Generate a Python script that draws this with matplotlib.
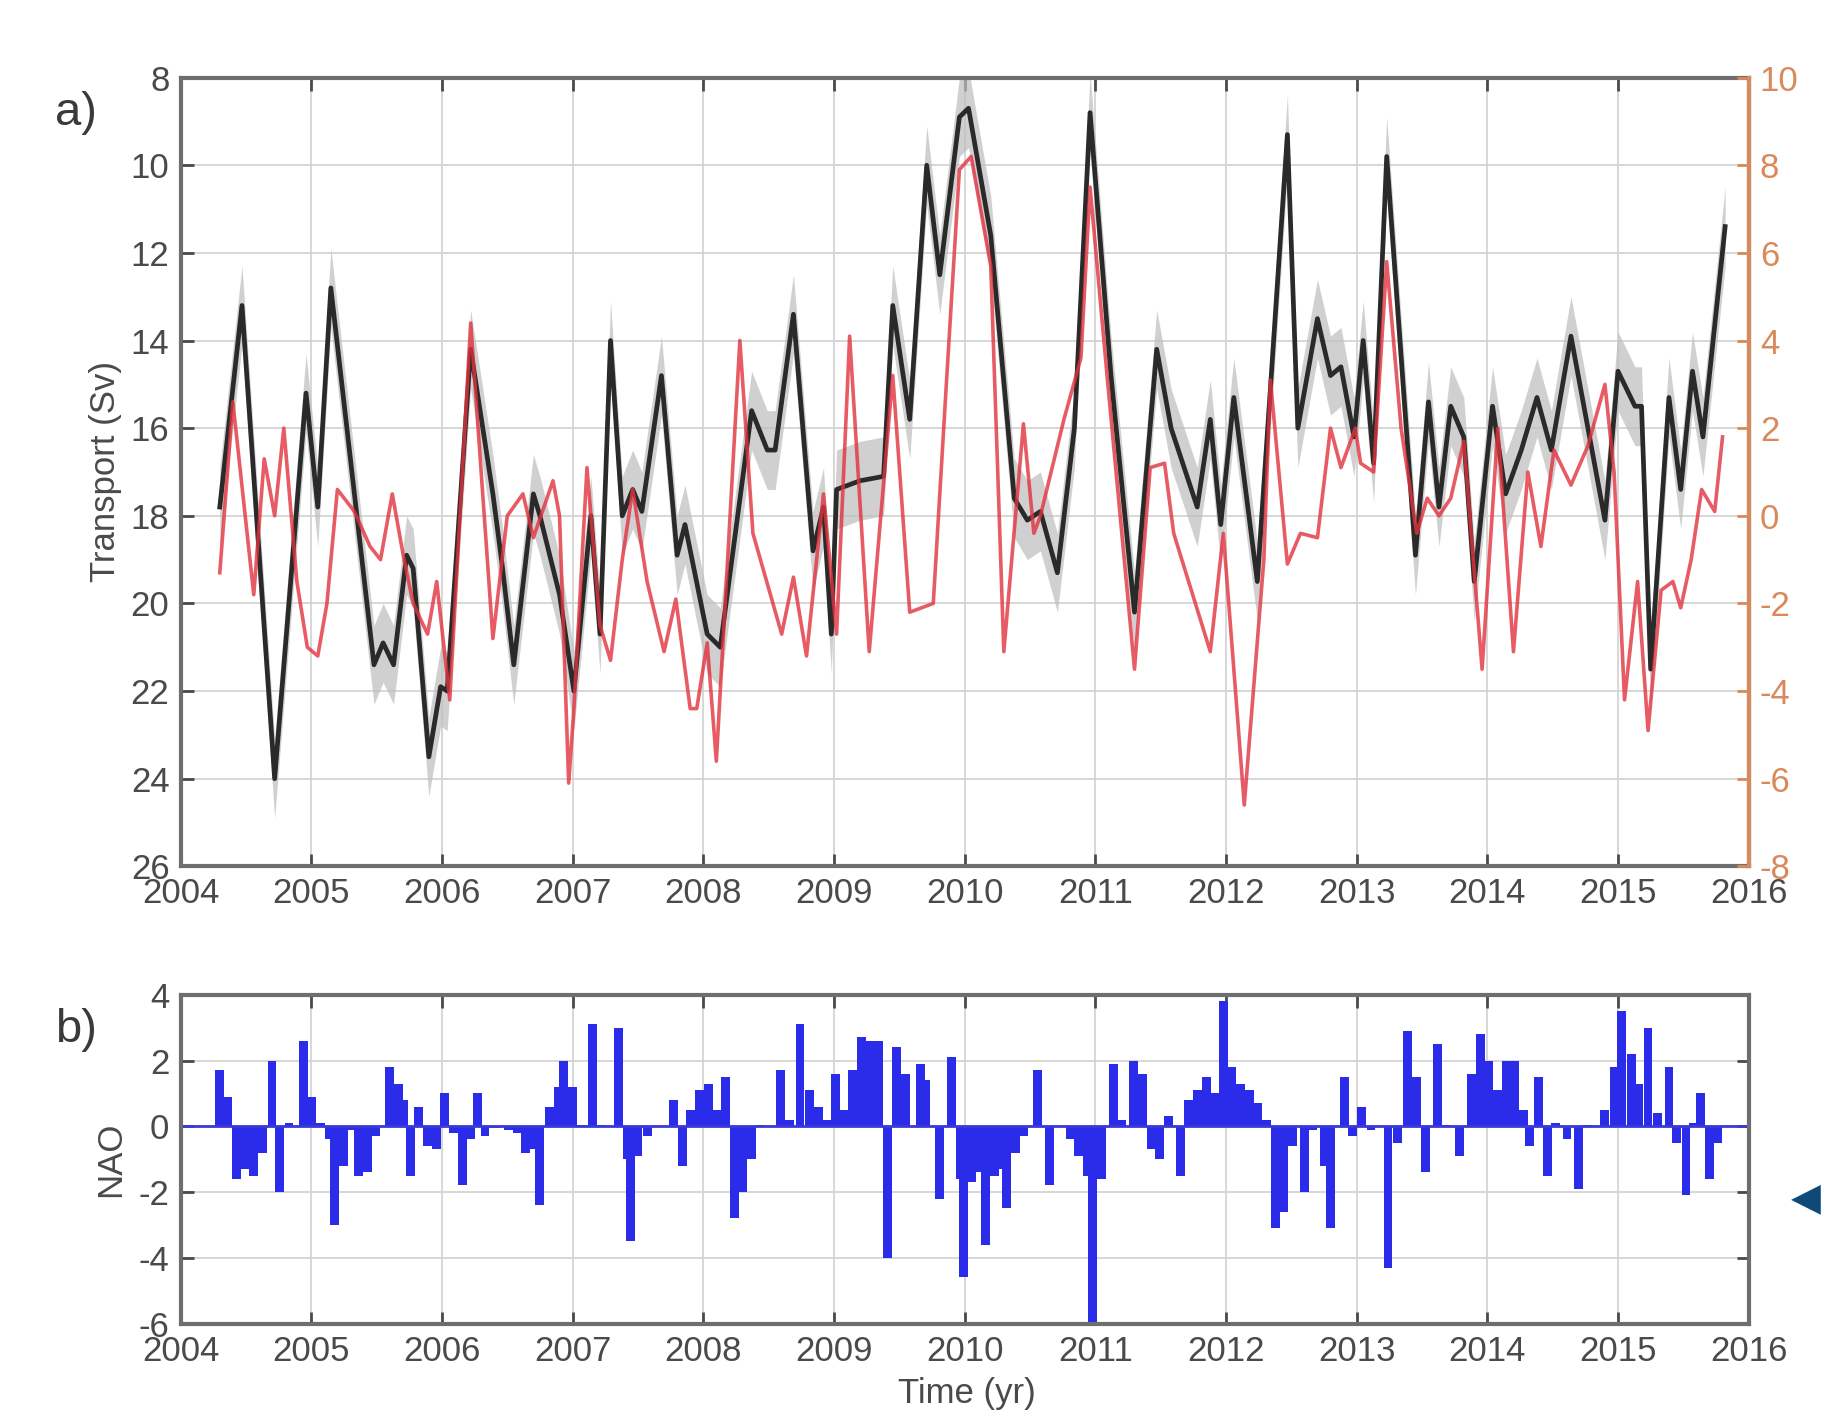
import matplotlib.pyplot as plt

plt.rcParams['font.family'] = ['Liberation Sans Narrow', 'Liberation Sans', 'DejaVu Sans']
plt.rcParams['axes.unicode_minus'] = False

# a) observed transport (Sv), black line with grey error band
transport_year = [2004.30, 2004.47, 2004.72, 2004.96, 2005.05, 2005.15, 2005.48, 2005.55,
                  2005.63, 2005.73, 2005.78, 2005.90, 2005.99, 2006.04, 2006.22, 2006.39,
                  2006.46, 2006.55, 2006.70, 2006.75, 2006.90, 2007.01, 2007.14, 2007.21,
                  2007.29, 2007.38, 2007.46, 2007.53, 2007.68, 2007.80, 2007.86, 2008.03,
                  2008.13, 2008.37, 2008.49, 2008.55, 2008.69, 2008.84, 2008.92, 2008.98,
                  2009.02, 2009.20, 2009.38, 2009.45, 2009.58, 2009.71, 2009.81, 2009.96,
                  2010.03, 2010.20, 2010.38, 2010.48, 2010.58, 2010.71, 2010.84, 2010.96,
                  2011.12, 2011.30, 2011.47, 2011.58, 2011.78, 2011.88, 2011.96, 2012.06,
                  2012.24, 2012.34, 2012.47, 2012.55, 2012.70, 2012.80, 2012.88, 2012.98,
                  2013.05, 2013.13, 2013.23, 2013.45, 2013.55, 2013.63, 2013.72, 2013.82,
                  2013.90, 2014.04, 2014.14, 2014.26, 2014.38, 2014.49, 2014.64, 2014.90,
                  2015.00, 2015.13, 2015.18, 2015.25, 2015.39, 2015.48, 2015.57, 2015.65,
                  2015.82]
transport_sv = [17.8, 13.2, 24.0, 15.2, 17.8, 12.8, 21.4, 20.9,
                21.4, 18.9, 19.2, 23.5, 21.9, 22.0, 14.2, 17.5,
                19.1, 21.4, 17.5, 18.0, 19.8, 22.0, 18.0, 20.7,
                14.0, 18.0, 17.4, 17.9, 14.8, 18.9, 18.2, 20.7,
                21.0, 15.6, 16.5, 16.5, 13.4, 18.8, 17.8, 20.7,
                17.4, 17.2, 17.1, 13.2, 15.8, 10.0, 12.5, 8.9,
                8.7, 11.6, 17.6, 18.1, 17.9, 19.3, 16.0, 8.8,
                14.8, 20.2, 14.2, 16.0, 17.8, 15.8, 18.2, 15.3,
                19.5, 15.1, 9.3, 16.0, 13.5, 14.8, 14.6, 16.2,
                14.0, 16.8, 9.8, 18.9, 15.4, 17.8, 15.5, 16.2,
                19.5, 15.5, 17.5, 16.5, 15.3, 16.5, 13.9, 18.1,
                14.7, 15.5, 15.5, 21.5, 15.3, 17.4, 14.7, 16.2,
                11.4]
transport_err = 0.9

# a) red series on the right-hand axis
red_year = [2004.30, 2004.40, 2004.56, 2004.64, 2004.72, 2004.79, 2004.89, 2004.97,
            2005.05, 2005.12, 2005.20, 2005.33, 2005.45, 2005.53, 2005.62, 2005.71,
            2005.78, 2005.89, 2005.96, 2006.06, 2006.22, 2006.39, 2006.50, 2006.62,
            2006.70, 2006.85, 2006.90, 2006.97, 2007.01, 2007.11, 2007.21, 2007.29,
            2007.38, 2007.46, 2007.57, 2007.70, 2007.79, 2007.90, 2007.95, 2008.03,
            2008.10, 2008.28, 2008.38, 2008.60, 2008.69, 2008.79, 2008.92, 2009.02,
            2009.12, 2009.27, 2009.45, 2009.58, 2009.76, 2009.86, 2009.96, 2010.05,
            2010.20, 2010.30, 2010.45, 2010.53, 2010.58, 2010.76, 2010.89, 2010.96,
            2011.09, 2011.30, 2011.42, 2011.53, 2011.60, 2011.88, 2011.98, 2012.14,
            2012.29, 2012.34, 2012.47, 2012.57, 2012.70, 2012.80, 2012.88, 2012.99,
            2013.03, 2013.13, 2013.23, 2013.34, 2013.46, 2013.54, 2013.63, 2013.72,
            2013.82, 2013.96, 2014.08, 2014.20, 2014.31, 2014.41, 2014.51, 2014.64,
            2014.77, 2014.90, 2014.97, 2015.05, 2015.15, 2015.23, 2015.33, 2015.42,
            2015.48, 2015.56, 2015.64, 2015.74, 2015.80]
red_val = [-1.3, 2.6, -1.8, 1.3, 0.0, 2.0, -1.5, -3.0,
           -3.2, -2.0, 0.6, 0.1, -0.7, -1.0, 0.5, -1.0,
           -2.0, -2.7, -1.5, -4.2, 4.4, -2.8, 0.0, 0.5,
           -0.5, 0.8, 0.0, -6.1, -4.4, 1.1, -2.5, -3.3,
           -1.0, 0.6, -1.5, -3.1, -1.9, -4.4, -4.4, -2.9,
           -5.6, 4.0, -0.4, -2.7, -1.4, -3.2, 0.5, -2.7,
           4.1, -3.1, 3.2, -2.2, -2.0, 3.0, 7.9, 8.2,
           5.7, -3.1, 2.1, -0.4, 0.0, 2.2, 3.6, 7.5,
           3.2, -3.5, 1.1, 1.2, -0.4, -3.1, -0.4, -6.6,
           -1.0, 3.1, -1.1, -0.4, -0.5, 2.0, 1.1, 2.0,
           1.2, 1.0, 5.8, 2.0, -0.4, 0.4, 0.0, 0.4,
           1.7, -3.5, 2.0, -3.1, 1.0, -0.7, 1.5, 0.7,
           1.6, 3.0, 1.0, -4.2, -1.5, -4.9, -1.7, -1.5,
           -2.1, -1.0, 0.6, 0.1, 1.8]

# b) NAO index
nao_year = [2004.30, 2004.36, 2004.43, 2004.50, 2004.56, 2004.63, 2004.70, 2004.76,
            2004.83, 2004.94, 2005.00, 2005.07, 2005.14, 2005.18, 2005.25, 2005.31,
            2005.36, 2005.43, 2005.49, 2005.60, 2005.67, 2005.71, 2005.76, 2005.82,
            2005.89, 2005.96, 2006.02, 2006.09, 2006.16, 2006.22, 2006.27, 2006.33,
            2006.40, 2006.51, 2006.58, 2006.64, 2006.71, 2006.75, 2006.82, 2006.89,
            2006.93, 2007.00, 2007.06, 2007.15, 2007.22, 2007.35, 2007.42, 2007.44,
            2007.50, 2007.57, 2007.77, 2007.84, 2007.90, 2007.97, 2008.04, 2008.10,
            2008.17, 2008.24, 2008.30, 2008.37, 2008.43, 2008.59, 2008.66, 2008.74,
            2008.81, 2008.88, 2008.94, 2009.01, 2009.08, 2009.14, 2009.21, 2009.27,
            2009.34, 2009.41, 2009.48, 2009.55, 2009.66, 2009.70, 2009.81, 2009.90,
            2009.97, 2009.99, 2010.05, 2010.12, 2010.16, 2010.23, 2010.30, 2010.32,
            2010.39, 2010.45, 2010.56, 2010.65, 2010.81, 2010.87, 2010.94, 2010.98,
            2011.05, 2011.14, 2011.20, 2011.29, 2011.36, 2011.43, 2011.49, 2011.56,
            2011.65, 2011.71, 2011.78, 2011.85, 2011.91, 2011.98, 2012.04, 2012.11,
            2012.18, 2012.24, 2012.31, 2012.38, 2012.44, 2012.51, 2012.60, 2012.66,
            2012.75, 2012.80, 2012.91, 2012.97, 2013.04, 2013.11, 2013.24, 2013.31,
            2013.39, 2013.46, 2013.53, 2013.62, 2013.68, 2013.79, 2013.88, 2013.95,
            2014.01, 2014.08, 2014.15, 2014.21, 2014.28, 2014.32, 2014.39, 2014.46,
            2014.52, 2014.61, 2014.70, 2014.77, 2014.90, 2014.97, 2015.03, 2015.10,
            2015.16, 2015.23, 2015.30, 2015.39, 2015.45, 2015.52, 2015.58, 2015.63,
            2015.70, 2015.76]
nao_val = [1.7, 0.9, -1.6, -1.3, -1.5, -0.8, 2.0, -2.0,
           0.1, 2.6, 0.9, 0.1, -0.4, -3.0, -1.2, -0.1,
           -1.5, -1.4, -0.3, 1.8, 1.3, 0.8, -1.5, 0.6,
           -0.6, -0.7, 1.0, -0.2, -1.8, -0.4, 1.0, -0.3,
           -0.05, -0.1, -0.2, -0.8, -0.7, -2.4, 0.6, 1.2,
           2.0, 1.2, 0.05, 3.1, 0.05, 3.0, -1.0, -3.5,
           -0.9, -0.3, 0.8, -1.2, 0.5, 1.1, 1.3, 0.5,
           1.5, -2.8, -2.0, -1.0, 0.05, 1.7, 0.2, 3.1,
           1.1, 0.6, 0.2, 1.6, 0.5, 1.7, 2.7, 2.6,
           2.6, -4.0, 2.4, 1.6, 1.9, 1.4, -2.2, 2.1,
           -1.6, -4.6, -1.7, -1.4, -3.6, -1.5, -1.3, -2.5,
           -0.8, -0.3, 1.7, -1.8, -0.4, -0.9, -1.5, -6.0,
           -1.6, 1.9, 0.2, 2.0, 1.6, -0.7, -1.0, 0.3,
           -1.5, 0.8, 1.1, 1.5, 1.0, 3.8, 1.8, 1.3,
           1.1, 0.7, 0.2, -3.1, -2.6, -0.6, -2.0, -0.1,
           -1.2, -3.1, 1.5, -0.3, 0.6, -0.1, -4.3, -0.5,
           2.9, 1.5, -1.4, 2.5, 0.05, -0.9, 1.6, 2.8,
           2.0, 1.1, 2.0, 2.0, 0.5, -0.6, 1.5, -1.5,
           0.1, -0.4, -1.9, 0.05, 0.5, 1.8, 3.5, 2.2,
           1.3, 3.0, 0.4, 1.8, -0.5, -2.1, 0.1, 1.0,
           -1.6, -0.5]

year_ticks = list(range(2004, 2017))
sv_ticks = list(range(8, 27, 2))
red_ticks = list(range(-8, 11, 2))
nao_ticks = list(range(-6, 5, 2))

tick_col = '#4a4a4a'
spine_col = '#6e6e6e'
orange = '#d98a5c'
fs = 25


def matlab_style(ax):
    ax.grid(True, color='#d4d4d4', linewidth=1.3)
    ax.set_axisbelow(True)
    for s in ax.spines.values():
        s.set_color(spine_col)
        s.set_linewidth(3)
    ax.tick_params(direction='in', length=9, width=2, colors=tick_col,
                   labelsize=fs, top=True, pad=8)


fig = plt.figure(figsize=(18.24, 14.11), dpi=100)

# panel a
ax1 = fig.add_axes([0.099, 0.386, 0.8597, 0.559])
matlab_style(ax1)
lo = [v - transport_err for v in transport_sv]
hi = [v + transport_err for v in transport_sv]
ax1.fill_between(transport_year, lo, hi, color='#bdbdbd', alpha=0.7, linewidth=0)
ax1.plot(transport_year, transport_sv, color='#2a2a2a', linewidth=3.4)
ax1.set_xlim(2004, 2016)
ax1.set_ylim(26, 8)
ax1.set_xticks(year_ticks)
ax1.set_yticks(sv_ticks)
ax1.tick_params(axis='y', right=False)
ax1.set_ylabel('Transport (Sv)', fontsize=fs, color=tick_col, labelpad=6)

ax1r = ax1.twinx()
ax1r.plot(red_year, red_val, color='#e2323f', linewidth=2.6, alpha=0.8)
ax1r.set_ylim(-8, 10)
ax1r.set_yticks(red_ticks)
ax1r.tick_params(direction='in', length=9, width=2, colors=orange, labelsize=fs, pad=8)
for s in ax1r.spines.values():
    s.set_visible(False)
ax1r.spines['right'].set_visible(True)
ax1r.spines['right'].set_color(orange)
ax1r.spines['right'].set_linewidth(3)

# panel b
ax2 = fig.add_axes([0.099, 0.062, 0.8597, 0.233])
matlab_style(ax2)
ax2.bar(nao_year, nao_val, width=0.068, color='#2b2bea', linewidth=0)
ax2.axhline(0, color='#3a3ad8', linewidth=2)
ax2.set_xlim(2004, 2016)
ax2.set_ylim(-6, 4)
ax2.set_xticks(year_ticks)
ax2.set_yticks(nao_ticks)
ax2.tick_params(axis='y', right=True)
ax2.set_ylabel('NAO', fontsize=fs, color=tick_col, labelpad=8)

fig.text(0.53, 0.001, 'Time (yr)', fontsize=fs, color=tick_col, ha='center', va='bottom')
fig.text(0.030, 0.920, 'a)', fontsize=34, color='#3a3a3a', ha='left', va='center')
fig.text(0.030, 0.270, 'b)', fontsize=34, color='#3a3a3a', ha='left', va='center')
fig.text(0.982, 0.151, '\u25c0', fontsize=28, color='#0d4a7a', ha='left', va='center',
         family=['DejaVu Sans'])

fig.savefig('out.png', dpi=100)
